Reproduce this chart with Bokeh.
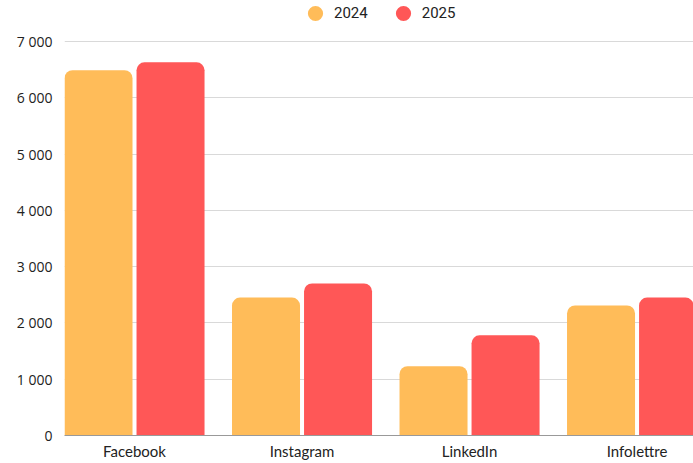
from bokeh.plotting import figure
from bokeh.models import (ColumnDataSource, Range1d, FixedTicker, Legend, LegendItem)
from bokeh.transform import dodge
from bokeh.embed import file_html
from bokeh.resources import INLINE

categories = ["Facebook", "Instagram", "LinkedIn", "Infolettre"]
values_2024 = [6490, 2450, 1230, 2310]
values_2025 = [6630, 2700, 1780, 2450]
y_ticks = [0, 1000, 2000, 3000, 4000, 5000, 6000, 7000]
y_tick_labels = ["0", "1 000", "2 000", "3 000", "4 000", "5 000", "6 000", "7 000"]
series_names = ["2024", "2025"]
colors = ["#FFBC59", "#FF5757"]

src = ColumnDataSource(dict(x=list(range(len(categories))), v2024=values_2024, v2025=values_2025))

p = figure(width=693, height=463, output_backend="svg", toolbar_location=None,
           x_range=Range1d(-0.418, 3.337), y_range=Range1d(0, 7728),
           min_border_left=64, min_border_right=0, min_border_top=0, min_border_bottom=28,
           outline_line_color=None)

bw = 0.406
off = bw / 2 + 0.012
p.vbar(x=dodge("x", -off, range=p.x_range), top="v2024", width=bw, bottom=0, source=src,
       fill_color=colors[0], line_color=None, border_radius=(8, 8, 0, 0))
p.vbar(x=dodge("x", off, range=p.x_range), top="v2025", width=bw, bottom=0, source=src,
       fill_color=colors[1], line_color=None, border_radius=(8, 8, 0, 0))

# legend-only circle markers (no visible points)
nan = float("nan")
r1 = p.scatter(x=[nan], y=[nan], marker="circle", size=15, fill_color=colors[0], line_color=None)
r2 = p.scatter(x=[nan], y=[nan], marker="circle", size=15, fill_color=colors[1], line_color=None)
legend = Legend(items=[LegendItem(label=series_names[0], renderers=[r1]),
                       LegendItem(label=series_names[1], renderers=[r2])],
                orientation="horizontal", location=(232, 403),
                label_text_font="Roboto", label_text_font_size="15px", label_text_color="#222222",
                glyph_width=38, glyph_height=38, label_standoff=0, spacing=16,
                padding=0, margin=0, border_line_color=None, background_fill_alpha=0,
                label_height=14)
p.add_layout(legend)

p.xgrid.grid_line_color = None
p.ygrid.grid_line_color = "#d9d9d9"
p.ygrid.grid_line_width = 1

p.yaxis.ticker = FixedTicker(ticks=y_ticks)
p.yaxis.major_label_overrides = {t: l for t, l in zip(y_ticks, y_tick_labels)}
p.yaxis.axis_line_color = None
p.yaxis.major_tick_line_color = None
p.yaxis.major_tick_out = 0
p.yaxis.major_tick_in = 0
p.yaxis.minor_tick_line_color = None
p.yaxis.major_label_standoff = 12
p.yaxis.major_label_text_font = "Open Sans"
p.yaxis.major_label_text_font_size = "14px"
p.yaxis.major_label_text_color = "#222222"

p.xaxis.ticker = FixedTicker(ticks=list(range(len(categories))))
p.xaxis.major_label_overrides = {i: c for i, c in enumerate(categories)}
p.xaxis.axis_line_color = "#999999"
p.xaxis.major_tick_line_color = None
p.xaxis.major_tick_out = 0
p.xaxis.major_tick_in = 0
p.xaxis.minor_tick_line_color = None
p.xaxis.major_label_standoff = 6
p.xaxis.major_label_text_font = "Lato"
p.xaxis.major_label_text_font_size = "15px"
p.xaxis.major_label_text_color = "#222222"

open("out.html", "w").write(file_html(p, INLINE))
